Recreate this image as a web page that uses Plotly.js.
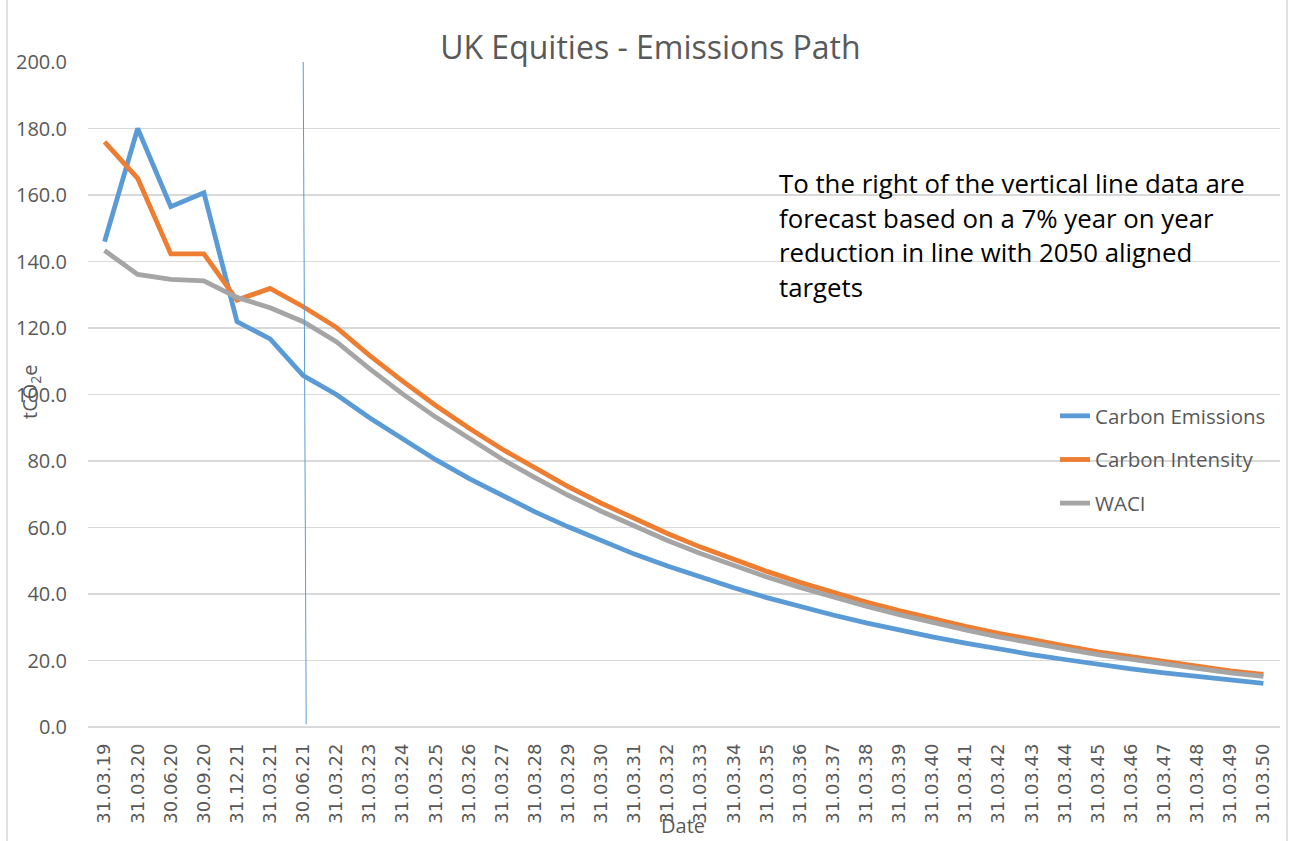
<!DOCTYPE html>
<html>
<head>
<meta charset="utf-8">
<script src="https://cdn.plot.ly/plotly-3.0.1.min.js"></script>
<style>
  html, body { margin: 0; padding: 0; background: #fff; }
  #chart { width: 1293px; height: 841px; }
</style>
</head>
<body>
<div id="chart"></div>
<script>
// Report dates (category axis)
const dates = [
  '31.03.19', '31.03.20', '30.06.20', '30.09.20', '31.12.21', '31.03.21', '30.06.21',
  '31.03.22', '31.03.23', '31.03.24', '31.03.25', '31.03.26', '31.03.27', '31.03.28',
  '31.03.29', '31.03.30', '31.03.31', '31.03.32', '31.03.33', '31.03.34', '31.03.35',
  '31.03.36', '31.03.37', '31.03.38', '31.03.39', '31.03.40', '31.03.41', '31.03.42',
  '31.03.43', '31.03.44', '31.03.45', '31.03.46', '31.03.47', '31.03.48', '31.03.49',
  '31.03.50'
];

// values
const carbonEmissions = [
  146.0, 180.0, 156.5, 160.7, 121.9, 116.7, 105.7,
  100.0, 93.0, 86.5, 80.4, 74.8, 69.6, 64.7, 60.2, 56.0, 52.0, 48.4, 45.0, 41.9,
  38.9, 36.2, 33.7, 31.3, 29.1, 27.1, 25.2, 23.4, 21.8, 20.3, 18.8, 17.5, 16.3,
  15.2, 14.1, 13.1
];

const carbonIntensity = [
  176.0, 165.0, 142.3, 142.3, 128.4, 131.9, 126.4,
  120.2, 111.8, 104.0, 96.7, 89.9, 83.6, 77.8, 72.3, 67.3, 62.6, 58.2, 54.1, 50.3,
  46.8, 43.5, 40.5, 37.6, 35.0, 32.6, 30.3, 28.2, 26.2, 24.4, 22.6, 21.1, 19.6,
  18.2, 16.9, 15.8
];

const waci = [
  143.3, 136.1, 134.6, 134.2, 129.2, 126.1, 121.9,
  115.9, 107.8, 100.2, 93.2, 86.7, 80.6, 75.0, 69.7, 64.9, 60.3, 56.1, 52.2, 48.5,
  45.1, 42.0, 39.0, 36.3, 33.8, 31.4, 29.2, 27.1, 25.2, 23.5, 21.8, 20.3, 18.9,
  17.6, 16.3, 15.2
];

const seriesNames = ['Carbon Emissions', 'Carbon Intensity', 'WACI'];
const seriesColors = ['#5B9BD5', '#ED7D31', '#A5A5A5'];
const forecastStart = '30.06.21';

const noteLines = [
  'To the right of the vertical line data are',
  'forecast based on a 7% year on year',
  'reduction in line with 2050 aligned',
  'targets'
];

const textColor = '#595959';
const gridColor = '#D9D9D9';

const traces = [carbonEmissions, carbonIntensity, waci].map((vals, i) => ({
  x: dates,
  y: vals,
  type: 'scatter',
  mode: 'lines',
  name: seriesNames[i],
  legendgroup: 'g' + i,
  line: { color: seriesColors[i], width: 4.8 },
  hoverinfo: 'x+y+name'
}));

const forecastIdx = dates.indexOf(forecastStart);

const annotations = noteLines.map((txt, i) => ({
  xref: 'paper', yref: 'paper',
  x: (777 - 88) / 1192, y: (727 - 183 - i * 34.7) / 665,
  xanchor: 'left', yanchor: 'middle',
  text: txt, showarrow: false, align: 'left',
  font: { family: 'Open Sans, sans-serif', size: 25.8, color: '#000' }
}));

// axis titles sit on top of the tick labels in the original
annotations.push({
  xref: 'paper', yref: 'paper',
  x: (30 - 88) / 1192, y: (727 - 392) / 665,
  xanchor: 'center', yanchor: 'middle', textangle: -90,
  text: 'tCO<sub>2</sub>e', showarrow: false,
  font: { family: 'Open Sans, sans-serif', size: 20, color: textColor }
});
annotations.push({
  xref: 'paper', yref: 'paper',
  x: (683 - 88) / 1192, y: (727 - 826) / 665,
  xanchor: 'center', yanchor: 'middle',
  text: 'Date', showarrow: false,
  font: { family: 'Open Sans, sans-serif', size: 20, color: textColor }
});

const layout = {
  width: 1293,
  height: 841,
  margin: { l: 88, r: 13, t: 62, b: 114 },
  paper_bgcolor: '#fff',
  plot_bgcolor: '#fff',
  title: {
    text: 'UK Equities - Emissions Path',
    x: 0.503, xref: 'container', xanchor: 'center',
    y: 1 - 48 / 841, yanchor: 'middle',
    font: { family: 'Open Sans, sans-serif', size: 32, color: textColor }
  },
  xaxis: {
    type: 'category',
    range: [-0.5, dates.length - 0.5],
    tickangle: -90,
    showgrid: false,
    zeroline: false,
    showline: false,
    ticks: '',
    ticklabelstandoff: 12,
    tickfont: { family: 'DejaVu Sans, sans-serif', size: 18, color: textColor }
  },
  yaxis: {
    range: [0, 200],
    dtick: 20,
    tickformat: '.1f',
    showgrid: true,
    gridcolor: gridColor,
    gridwidth: 1.5,
    zeroline: true,
    zerolinecolor: gridColor,
    zerolinewidth: 1.5,
    showline: false,
    ticks: '',
    ticklabelstandoff: 20,
    tickfont: { family: 'Open Sans, sans-serif', size: 20, color: textColor }
  },
  showlegend: true,
  legend: {
    x: (1055 - 88) / 1192,
    y: (727 - 396) / 665,
    xanchor: 'left',
    yanchor: 'top',
    traceorder: 'grouped',
    tracegroupgap: 14,
    bgcolor: 'rgba(255,255,255,0)',
    font: { family: 'Open Sans, sans-serif', size: 20.5, color: textColor }
  },
  annotations: annotations,
  shapes: [
    // forecast divider (slightly slanted in the original)
    {
      type: 'line', xref: 'x', yref: 'y',
      x0: forecastIdx, y0: 200.5, x1: forecastIdx + 0.09, y1: 0.8,
      line: { color: '#5B9BD5', width: 1 }
    },
    // chart frame edges
    {
      type: 'line', xref: 'paper', yref: 'paper',
      x0: (7 - 88) / 1192, x1: (7 - 88) / 1192, y0: -0.3, y1: 1.2,
      line: { color: gridColor, width: 1.5 }
    },
    {
      type: 'line', xref: 'paper', yref: 'paper',
      x0: (1287 - 88) / 1192, x1: (1287 - 88) / 1192, y0: -0.3, y1: 1.2,
      line: { color: gridColor, width: 1.5 }
    }
  ]
};

Plotly.newPlot('chart', traces, layout, { displayModeBar: false, staticPlot: true });
</script>
</body>
</html>
